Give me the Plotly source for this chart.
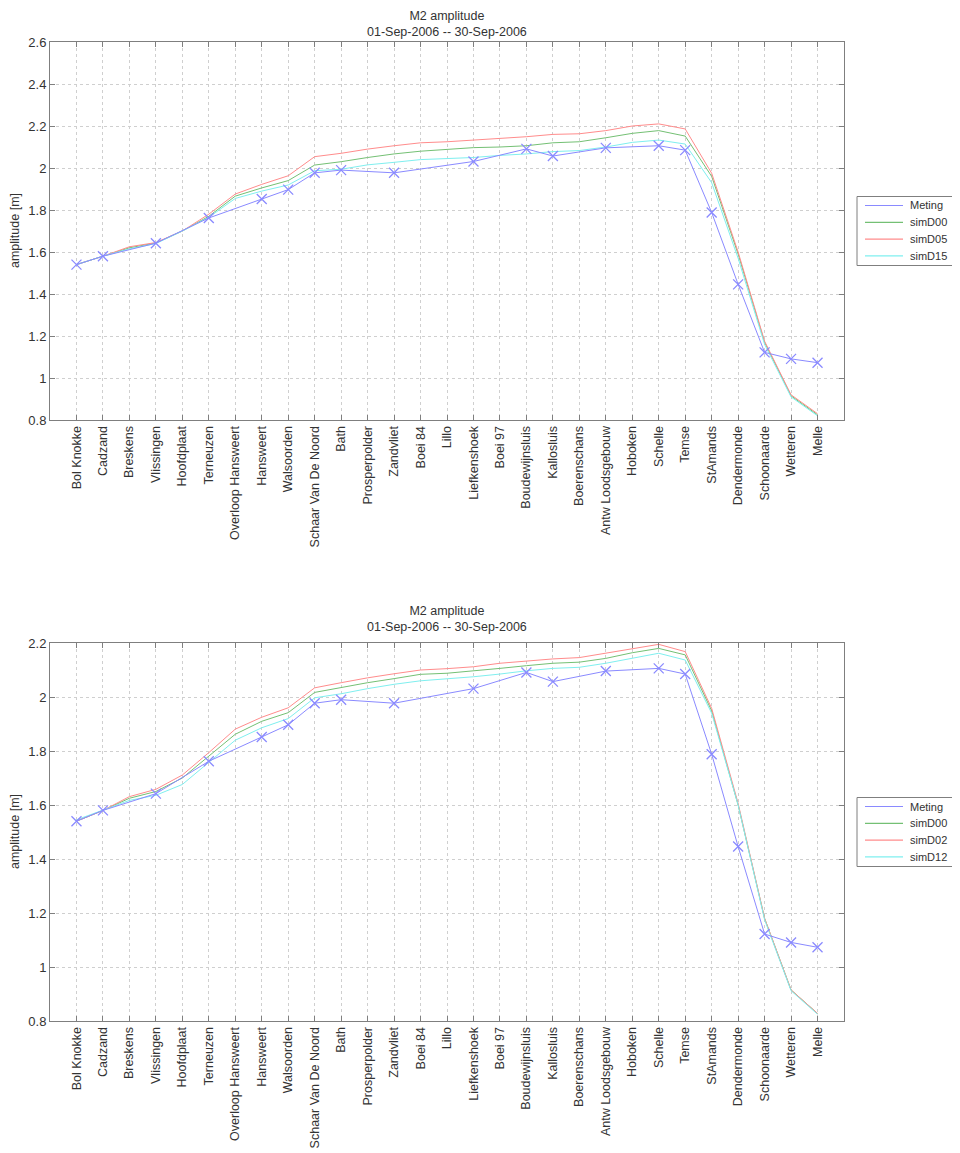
import plotly.graph_objects as go

stations = ["Bol Knokke", "Cadzand", "Breskens", "Vlissingen", "Hoofdplaat", "Terneuzen",
            "Overloop Hansweert", "Hansweert", "Walsoorden", "Schaar Van De Noord", "Bath",
            "Prosperpolder", "Zandvliet", "Boei 84", "Lillo", "Liefkenshoek", "Boei 97",
            "Boudewijnsluis", "Kallosluis", "Boerenschans", "Antw Loodsgebouw", "Hoboken",
            "Schelle", "Temse", "StAmands", "Dendermonde", "Schoonaarde", "Wetteren", "Melle"]

meting = [1.54, 1.58, None, 1.642, None, 1.762, None, 1.852, 1.897, 1.977, 1.99,
          None, 1.977, None, None, 2.031, None, 2.091, 2.057, None, 2.096, None,
          2.106, 2.085, 1.788, 1.446, 1.122, 1.091, 1.073]

# top panel simulations
top_simD00 = [1.54, 1.58, 1.62, 1.643, 1.70, 1.77, 1.866, 1.905, 1.94, 2.014, 2.03,
              2.05, 2.067, 2.08, 2.09, 2.097, 2.10, 2.106, 2.12, 2.125, 2.144, 2.165,
              2.178, 2.152, 1.96, 1.59, 1.17, 0.915, 0.825]
top_simD05 = [1.54, 1.58, 1.625, 1.645, 1.70, 1.78, 1.876, 1.922, 1.963, 2.054, 2.07,
              2.09, 2.106, 2.12, 2.125, 2.133, 2.14, 2.149, 2.16, 2.163, 2.178, 2.20,
              2.21, 2.186, 1.975, 1.60, 1.175, 0.92, 0.83]
top_simD15 = [1.54, 1.58, 1.615, 1.64, 1.70, 1.765, 1.855, 1.89, 1.919, 1.987, 1.994,
              2.015, 2.027, 2.04, 2.045, 2.05, 2.06, 2.067, 2.078, 2.083, 2.10, 2.122,
              2.133, 2.114, 1.93, 1.57, 1.16, 0.91, 0.82]

# bottom panel simulations
bot_simD00 = [1.54, 1.58, 1.625, 1.65, 1.70, 1.78, 1.862, 1.91, 1.942, 2.017, 2.035,
              2.053, 2.068, 2.084, 2.088, 2.096, 2.106, 2.116, 2.125, 2.129, 2.143, 2.164,
              2.18, 2.156, 1.949, 1.60, 1.18, 0.915, 0.828]
bot_simD02 = [1.54, 1.58, 1.631, 1.658, 1.711, 1.794, 1.881, 1.925, 1.96, 2.034, 2.053,
              2.071, 2.086, 2.10, 2.105, 2.112, 2.125, 2.133, 2.141, 2.146, 2.162, 2.18,
              2.195, 2.168, 1.958, 1.606, 1.18, 0.915, 0.828]
bot_simD12 = [1.545, 1.58, 1.617, 1.636, 1.676, 1.758, 1.84, 1.886, 1.92, 1.997, 2.012,
              2.031, 2.047, 2.06, 2.067, 2.075, 2.085, 2.097, 2.106, 2.11, 2.125, 2.143,
              2.162, 2.137, 1.94, 1.60, 1.175, 0.912, 0.825]

top_names = ["Meting", "simD00", "simD05", "simD15"]
bot_names = ["Meting", "simD00", "simD02", "simD12"]

title_lines = ["M2 amplitude", "01-Sep-2006 -- 30-Sep-2006"]
ylabel = "amplitude [m]"
top_yticks = [0.8, 1.0, 1.2, 1.4, 1.6, 1.8, 2.0, 2.2, 2.4, 2.6]
bot_yticks = [0.8, 1.0, 1.2, 1.4, 1.6, 1.8, 2.0, 2.2]

C_MET = "#8a8aff"
C_D00 = "#74c074"
C_RED = "#ff8c8c"
C_CYA = "#7fefef"
COLORS = [C_MET, C_D00, C_RED, C_CYA]
TXT = "#333333"

W, H = 960, 1153
OFF = 8  # page body margin offset
L, R = 50 - OFF, 844 - OFF


def py(px):
    return 1 - (px - OFF) / H


def pxx(px):
    return (px - OFF - L) / (R - L)


xs = list(range(1, len(stations) + 1))
FONT = "Liberation Sans, Arial, Helvetica, sans-serif"

fig = go.Figure()


def add_panel(sims, names, xa, ya):
    for s, n, c in zip(sims, names[1:], COLORS[1:]):
        fig.add_trace(go.Scatter(x=xs, y=s, mode="lines", name=n, showlegend=False,
                                 line=dict(color=c, width=1), xaxis=xa, yaxis=ya))
    fig.add_trace(go.Scatter(x=xs, y=meting, mode="lines+markers", name=names[0],
                             showlegend=False, connectgaps=True,
                             line=dict(color=C_MET, width=1),
                             marker=dict(symbol="x-thin-open", size=10,
                                         line=dict(color="#0000ff", width=1.3)),
                             xaxis=xa, yaxis=ya))


add_panel([top_simD00, top_simD05, top_simD15], top_names, "x", "y")
add_panel([bot_simD00, bot_simD02, bot_simD12], bot_names, "x2", "y2")

axis_common = dict(showline=True, linecolor="#7f7f7f", linewidth=1, mirror="ticks",
                   ticks="inside", ticklen=5, tickcolor="#7f7f7f",
                   showgrid=True, gridcolor="#cfcfcf", griddash="dot", gridwidth=1,
                   zeroline=False, automargin=False,
                   tickfont=dict(family=FONT, size=13, color=TXT))

xcommon = dict(axis_common, range=[0, 30], tickmode="array", tickvals=xs, ticktext=stations,
               tickangle=-90, tickfont=dict(family=FONT, size=12.5, color=TXT))

fig.update_layout(
    width=W, height=H, paper_bgcolor="white", plot_bgcolor="white",
    margin=dict(l=L, r=W - R, t=0, b=0),
    showlegend=False,
    xaxis=dict(xcommon, domain=[0, 1], anchor="y"),
    yaxis=dict(axis_common, domain=[py(420), py(42)], range=[0.8, 2.6],
               tickmode="array", tickvals=top_yticks, anchor="x"),
    xaxis2=dict(xcommon, domain=[0, 1], anchor="y2"),
    yaxis2=dict(axis_common, domain=[py(1021), py(643)], range=[0.8, 2.2],
                tickmode="array", tickvals=bot_yticks, anchor="x2"),
)

ann = []
shapes = []
for title_top, ax_top, ax_bot, names in [(OFF, 42, 420, top_names), (603, 643, 1021, bot_names)]:
    ann.append(dict(text="<br>".join(title_lines), x=0.5, y=py(title_top),
                    xref="paper", yref="paper", showarrow=False,
                    font=dict(family=FONT, size=12.5, color=TXT),
                    xanchor="center", yanchor="top", borderpad=0))
    ann.append(dict(text=ylabel, x=pxx(15), y=py((ax_top + ax_bot) / 2),
                    xref="paper", yref="paper", showarrow=False, textangle=-90,
                    font=dict(family=FONT, size=12.5, color=TXT),
                    xanchor="center", yanchor="middle"))
    # manual legend box (MATLAB-style compact legend)
    cy = (ax_top + ax_bot) / 2
    btop, bbot = cy - 34.5, cy + 34.5
    shapes.append(dict(type="rect", xref="paper", yref="paper",
                       x0=pxx(857), x1=pxx(954), y0=py(bbot), y1=py(btop),
                       line=dict(color="#7f7f7f", width=1), fillcolor="white", layer="above"))
    for i, (n, c) in enumerate(zip(names, COLORS)):
        ey = btop + 9 + i * 16.8
        shapes.append(dict(type="line", xref="paper", yref="paper",
                           x0=pxx(865), x1=pxx(903), y0=py(ey), y1=py(ey),
                           line=dict(color=c, width=1.2), layer="above"))
        ann.append(dict(text=n, x=pxx(909), y=py(ey), xref="paper", yref="paper",
                        showarrow=False, font=dict(family=FONT, size=11, color=TXT),
                        xanchor="left", yanchor="middle", borderpad=0))
fig.update_layout(annotations=ann, shapes=shapes)

fig.write_html("out.html")
